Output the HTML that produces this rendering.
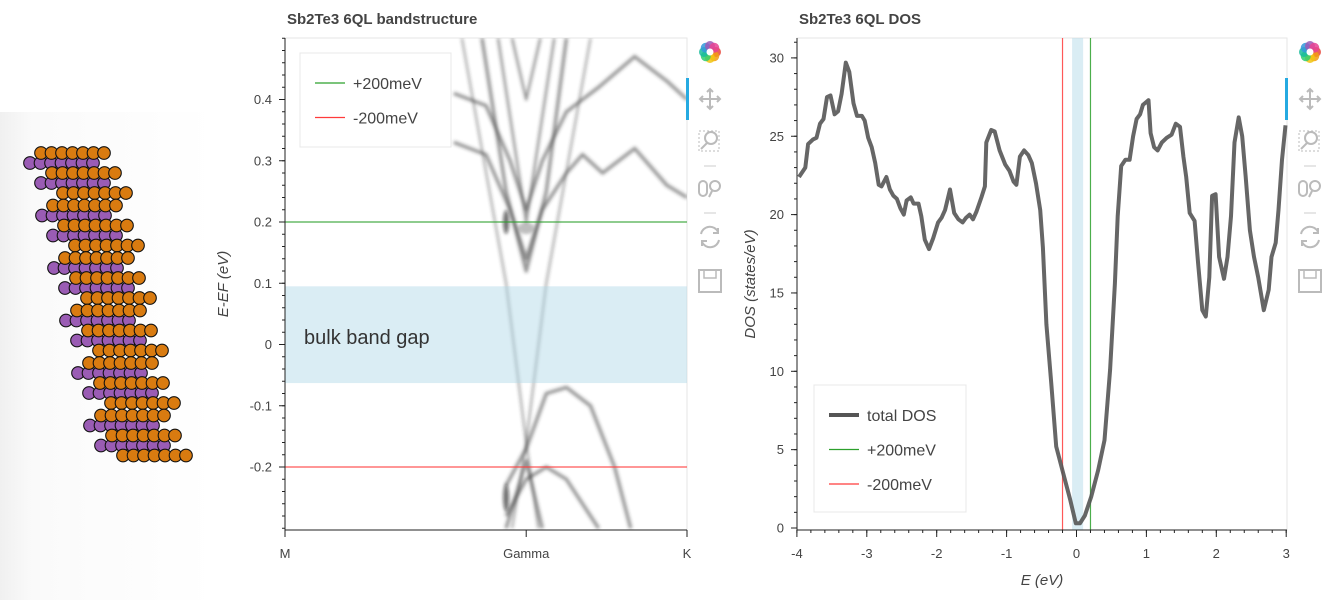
<!DOCTYPE html>
<html><head><meta charset="utf-8">
<style>
html,body{margin:0;padding:0;background:#fff;}
body{width:1334px;height:600px;overflow:hidden;font-family:"Liberation Sans",sans-serif;}
svg text{font-family:"Liberation Sans",sans-serif;}
</style></head>
<body>
<svg id="root" width="1334" height="600" xmlns="http://www.w3.org/2000/svg">
<defs>
<linearGradient id="lg" x1="0" x2="1" y1="0" y2="0"><stop offset="0" stop-color="#f0f0f0"/><stop offset="0.15" stop-color="#fafafa"/><stop offset="1" stop-color="#fff"/></linearGradient>
<filter id="blur" x="-20%" y="-20%" width="140%" height="140%"><feGaussianBlur stdDeviation="1.6"/></filter>
</defs>
<rect x="0" y="112" width="215" height="488" fill="url(#lg)"/>
<g id="atoms"></g>

<text x="287" y="24" font-size="15" font-weight="bold" fill="#444">Sb2Te3 6QL bandstructure</text>
<text x="799" y="24" font-size="15" font-weight="bold" fill="#444">Sb2Te3 6QL DOS</text>

<g id="band"></g>
<g id="dos"></g>
<g id="tb1"></g>
<g id="tb2"></g>
</svg>
<script>
// ---------------- DOS data ----------------
const dosE = [-3.97,-3.88,-3.84,-3.77,-3.72,-3.67,-3.62,-3.57,-3.52,-3.46,-3.41,-3.36,-3.30,-3.25,-3.19,-3.14,-3.07,-3.03,-2.98,-2.93,-2.88,-2.83,-2.79,-2.72,-2.67,-2.62,-2.57,-2.52,-2.47,-2.43,-2.37,-2.33,-2.26,-2.22,-2.17,-2.11,-2.05,-1.98,-1.93,-1.88,-1.81,-1.75,-1.69,-1.63,-1.58,-1.53,-1.48,-1.43,-1.36,-1.31,-1.29,-1.22,-1.17,-1.10,-1.02,-0.96,-0.90,-0.86,-0.81,-0.75,-0.69,-0.64,-0.58,-0.52,-0.48,-0.43,-0.36,-0.29,-0.19,-0.09,-0.01,0.05,0.12,0.21,0.31,0.40,0.48,0.55,0.59,0.64,0.70,0.76,0.81,0.86,0.91,0.95,1.03,1.06,1.11,1.16,1.22,1.29,1.36,1.42,1.48,1.53,1.57,1.62,1.69,1.74,1.80,1.85,1.90,1.94,1.99,2.04,2.11,2.16,2.21,2.26,2.32,2.37,2.42,2.48,2.54,2.60,2.68,2.75,2.79,2.85,2.89,2.94,2.99];
const dosV = [22.4,23.0,24.5,24.8,24.9,25.8,26.1,27.5,27.6,26.4,26.6,27.7,29.7,29.1,27.1,26.3,26.3,26.0,24.9,24.3,23.3,21.9,21.8,22.4,21.6,21.2,21.0,20.4,20.0,20.9,21.1,20.7,20.7,19.9,18.4,17.8,18.5,19.5,19.8,20.3,21.6,20.1,19.7,19.5,19.8,20.0,19.7,20.2,21.1,21.8,24.6,25.4,25.3,24.1,23.2,22.8,22.1,21.9,23.7,24.1,23.8,23.3,22.0,20.3,17.9,13.0,9.2,5.2,3.5,1.8,0.3,0.3,0.8,2.0,3.7,5.6,10.1,15.6,19.9,23.1,23.5,23.5,25.0,26.1,26.4,27.0,27.3,25.2,24.3,24.1,24.6,24.9,25.1,25.8,25.6,23.7,22.4,20.1,19.6,16.9,13.9,13.5,16.0,21.2,21.3,17.3,15.9,17.3,19.9,24.6,26.2,25.0,22.4,19.0,17.3,16.0,13.9,15.2,17.3,18.2,20.3,23.5,25.7];
const dosXTicks = [-4,-3,-2,-1,0,1,2,3];
const dosYTicks = [0,5,10,15,20,25,30];
const markerLines = [0.2,-0.2];
const gapRange = [-0.063,0.095];
// ---------------- Band data (k in 0..1, E in eV) ----------------
const bandYTicks = [-0.2,-0.1,0,0.1,0.2,0.3,0.4];
const kLabels = ["M","Gamma","K"];
const kPos = [0,0.6,1];
const bandK = [
 [0.42,0.50,0.56,0.60,0.64,0.70,0.74,0.78,0.87,0.95,1.0],
 [0.42,0.50,0.56,0.60,0.64,0.70,0.74,0.79,0.87,0.95,1.0],
 [0.49,0.55,0.60,0.65,0.70],
 [0.565,0.60,0.635],
 [0.44,0.55,0.60,0.63],
 [0.76,0.65,0.60,0.565],
 [0.55,0.60,0.65,0.70,0.76,0.82,0.86],
 [0.55,0.60,0.65,0.70,0.76,0.78],
 [0.55,0.60,0.64],
 [0.53,0.60,0.67]
];
const bandE = [
 [0.41,0.39,0.30,0.22,0.30,0.38,0.40,0.42,0.47,0.43,0.40],
 [0.33,0.31,0.22,0.14,0.22,0.28,0.31,0.28,0.32,0.26,0.24],
 [0.50,0.25,0.12,0.25,0.50],
 [0.50,0.40,0.50],
 [0.50,0.10,-0.16,-0.30],
 [0.50,0.10,-0.16,-0.30],
 [-0.23,-0.17,-0.08,-0.07,-0.10,-0.20,-0.30],
 [-0.28,-0.22,-0.20,-0.22,-0.28,-0.30],
 [-0.30,-0.19,-0.30],
 [0.50,0.20,0.50]
];
const bandW = [2.5,2.5,2.5,1.5,0.8,0.8,2.5,2.5,2.5,1.5];

const NS="http://www.w3.org/2000/svg";
function mk(tag,attrs,parent){const e=document.createElementNS(NS,tag);for(const k in attrs)e.setAttribute(k,attrs[k]);if(parent)parent.appendChild(e);return e;}

// ---------- atoms ----------
(function(){
 const g=document.getElementById('atoms');
 const rows=[];
 for(let q=0;q<6;q++){
  const d=30+q*12, y0=153+q*52.5;
  const offs=[11,0,22,11,33], types=['o','p','o','p','o'];
  for(let l=0;l<5;l++) rows.push({y:y0+l*10,x:d+offs[l],t:types[l]});
 }
 const order=rows.filter(r=>r.t==='p').concat(rows.filter(r=>r.t==='o'));
 order.forEach(r=>{for(let i=0;i<7;i++){
  const c=mk('circle',{cx:r.x+i*10.5,cy:r.y,r:6.3,fill:r.t==='o'?'#d97b10':'#9a5cb4',stroke:'#111','stroke-width':1.1},g);
  
  
 }});
})();

// ---------- axis helpers ----------
function axisLeft(g,x,y0,y1,ticks,minor,scale,fmt,name){
 const ax=mk('g',{},g);
 
 
 mk('line',{x1:x,x2:x,y1:y0,y2:y1,stroke:'#222','stroke-width':1},ax);
 minor.forEach(v=>{const y=scale(v);if(y>=y0-0.5&&y<=y1+0.5)mk('line',{x1:x-3,x2:x,y1:y,y2:y,stroke:'#222'},ax);});
 ticks.forEach(v=>{const y=scale(v);mk('line',{x1:x-6,x2:x,y1:y,y2:y,stroke:'#222'},ax);
  const t=mk('text',{x:x-13,y:y+4.5,'text-anchor':'end','font-size':13,fill:'#444'},ax);t.textContent=fmt(v);
  });
}
function axisBottom(g,y,x0,x1,ticks,labels,minor,scale,name){
 const ax=mk('g',{},g);
 
 
 mk('line',{x1:x0,x2:x1,y1:y,y2:y,stroke:'#222'},ax);
 minor.forEach(v=>{const x=scale(v);mk('line',{x1:x,x2:x,y1:y,y2:y+3,stroke:'#222'},ax);});
 ticks.forEach((v,i)=>{const x=scale(v);mk('line',{x1:x,x2:x,y1:y,y2:y+7,stroke:'#222'},ax);
  const t=mk('text',{x:x,y:y+28,'text-anchor':'middle','font-size':13,fill:'#444'},ax);t.textContent=labels[i];
  });
}
function legend(g,x,y,w,h,items,name){
 const lg=mk('g',{},g);
 
 
 mk('rect',{x:x,y:y,width:w,height:h,fill:'#fff','fill-opacity':0.95,stroke:'#e8e8e8'},lg);
 items.forEach((it,i)=>{const yy=y+30+i*34.5;
  const ent=mk('g',{},lg);
  
  
  mk('line',{x1:x+15,x2:x+45,y1:yy,y2:yy,stroke:it.c,'stroke-width':it.w},ent);
  const t=mk('text',{x:x+53,y:yy+6,'font-size':16,fill:'#444'},ent);t.textContent=it.l;});
}

// ---------- band plot ----------
(function(){
 const g=document.getElementById('band');
 const X0=285,X1=687,Y0=38,Y1=530;
 const kx=k=>X0+k*(X1-X0);
 const ey=e=>344.5-e*612.5;
 const clip=mk('clipPath',{id:'bclip'},g);mk('rect',{x:X0,y:Y0,width:X1-X0,height:Y1-Y0},clip);
 mk('rect',{x:X0,y:Y0,width:X1-X0,height:Y1-Y0,fill:'#fff',stroke:'#e6e6e6'},g);
 const bg=mk('g',{'clip-path':'url(#bclip)'},g);
 const bl=mk('g',{filter:'url(#blur)'},bg);
 bandK.forEach((ks,i)=>{
  const d=ks.map((k,j)=>(j?'L':'M')+kx(k).toFixed(1)+' '+ey(bandE[i][j]).toFixed(1)).join(' ');
  const p=mk('path',{d:d,fill:'none',stroke:'#333','stroke-width':bandW[i]+1,'stroke-opacity':0.5,'stroke-linejoin':'round'},bl);
  
  
 });
 const bb=mk('g',{filter:'url(#blur)'},bg);
 mk('ellipse',{cx:kx(0.55),cy:ey(0.2),rx:3,ry:12,fill:'#111',opacity:0.6},bb);
 mk('ellipse',{cx:kx(0.6),cy:ey(0.19),rx:8,ry:6,fill:'#444',opacity:0.35},bb);
 mk('ellipse',{cx:kx(0.55),cy:ey(-0.25),rx:3,ry:14,fill:'#111',opacity:0.6},bb);
 const gap=mk('rect',{x:X0,y:ey(gapRange[1]),width:X1-X0,height:ey(gapRange[0])-ey(gapRange[1]),fill:'#add8e6','fill-opacity':0.45},bg);
 
 const gt=mk('text',{x:304,y:344,'font-size':20,fill:'#333'},bg);gt.textContent='bulk band gap';
 
 const cols=['#2ca02c','#ff3b3b'];
 markerLines.forEach((e,i)=>{const l=mk('line',{x1:X0,x2:X1,y1:ey(e),y2:ey(e),stroke:cols[i],'stroke-width':1.2,'stroke-opacity':0.85},bg);
  });
 const minor=[];for(let v=-0.30;v<=0.5001;v+=0.02)minor.push(+v.toFixed(2));
 axisLeft(g,X0,Y0,Y1,bandYTicks,minor,ey,v=>v===0?'0':String(+v.toFixed(1)),'band-y-axis');
 axisBottom(g,Y1,X0,X1,kPos,kLabels,[],kx,'band-x-axis');
 const yl=mk('text',{x:0,y:0,'font-size':15,'font-style':'italic',fill:'#444','text-anchor':'middle',transform:'translate(228,284) rotate(-90)'},g);
 yl.textContent='E-EF (eV)';
 legend(g,300,53,151,94,[{c:'#2ca02c',w:1.2,l:'+200meV'},{c:'#ff3b3b',w:1.2,l:'-200meV'}],'band-legend');
})();

// ---------- DOS plot ----------
(function(){
 const g=document.getElementById('dos');
 const X0=797,X1=1287,Y0=38,Y1=530;
 const ex=e=>1076.5+e*69.9;
 const vy=v=>528-v*15.67;
 mk('rect',{x:X0,y:Y0,width:X1-X0,height:Y1-Y0,fill:'#fff',stroke:'#e6e6e6'},g);
 const gap=mk('rect',{x:ex(gapRange[0]),y:Y0,width:ex(gapRange[1])-ex(gapRange[0]),height:Y1-Y0,fill:'#add8e6','fill-opacity':0.45},g);
 
 const cols=['#2ca02c','#ff3b3b'];
 markerLines.forEach((e,i)=>{const l=mk('line',{x1:ex(e),x2:ex(e),y1:Y0,y2:Y1,stroke:cols[i],'stroke-width':1.2,'stroke-opacity':0.85},g);
  });
 const d=dosE.map((e,i)=>(i?'L':'M')+ex(e).toFixed(1)+' '+vy(dosV[i]).toFixed(1)).join(' ');
 const p=mk('path',{d:d,fill:'none',stroke:'#555','stroke-width':4,'stroke-opacity':0.9,'stroke-linejoin':'round'},g);
 
 const ym=[];for(let v=0;v<=31;v++)ym.push(v);
 axisLeft(g,X0,Y0,Y1,dosYTicks,ym,vy,v=>String(v),'dos-y-axis');
 const xm=[];for(let v=-4;v<=3.0001;v+=0.2)xm.push(+v.toFixed(1));
 axisBottom(g,Y1,X0,X1,dosXTicks,dosXTicks.map(String),xm,ex,'dos-x-axis');
 const yl=mk('text',{x:0,y:0,'font-size':15,'font-style':'italic',fill:'#444','text-anchor':'middle',transform:'translate(755,284) rotate(-90)'},g);
 yl.textContent='DOS (states/eV)';
 const xl=mk('text',{x:1042,y:585,'font-size':15,'font-style':'italic',fill:'#444','text-anchor':'middle'},g);
 xl.textContent='E (eV)';
 legend(g,814,385,152,127,[{c:'#555',w:4,l:'total DOS'},{c:'#2ca02c',w:1.2,l:'+200meV'},{c:'#ff3b3b',w:1.2,l:'-200meV'}],'dos-legend');
})();

// ---------- toolbars ----------
function toolbar(id,x,barX){
 const g=document.getElementById(id);
 const logo=mk('g',{},g);
 
 const cs=['#e8483b','#f39c12','#f1c40f','#2ecc71','#1abc9c','#3498db','#9b59b6','#e84393'];
 cs.forEach((c,i)=>{const a=i*Math.PI/4;mk('circle',{cx:x+Math.cos(a)*6,cy:52+Math.sin(a)*6,r:5,fill:c,opacity:0.85},logo);});
 mk('circle',{cx:x,cy:52,r:3.5,fill:'#fff'},logo);
 const bar=mk('rect',{x:barX,y:78,width:3,height:42,fill:'#26aae1'},g);
 
 const s='#bbb';
 const pan=mk('g',{stroke:s,'stroke-width':2,fill:'none'},g);
 
 mk('path',{d:`M${x-10} 99 H${x+10} M${x} 89 V109 M${x-7} 96 l-3 3 3 3 M${x+7} 96 l3 3 -3 3 M${x-3} 92 l3 -3 3 3 M${x-3} 106 l3 3 3 -3`},pan);
 const zm=mk('g',{stroke:s,'stroke-width':2,fill:'none'},g);
 
 mk('rect',{x:x-11,y:131,width:20,height:20,'stroke-dasharray':'2 2','stroke-width':1},zm);
 mk('circle',{cx:x+1,cy:138,r:6},zm);mk('path',{d:`M${x-3} 143 l-6 6`},zm);
 mk('line',{x1:x-6,x2:x+6,y1:166,y2:166,stroke:'#ccc'},g);
 const wz=mk('g',{stroke:s,'stroke-width':2,fill:'none'},g);
 
 mk('rect',{x:x-11,y:181,width:8,height:15,rx:4},wz);mk('circle',{cx:x+5,cy:186,r:5},wz);mk('path',{d:`M${x+2} 191 l-3 6`},wz);
 mk('line',{x1:x-6,x2:x+6,y1:213,y2:213,stroke:'#ccc'},g);
 const rs=mk('g',{stroke:s,'stroke-width':2,fill:'none'},g);
 
 mk('path',{d:`M${x-9} 234 A9 9 0 0 1 ${x+8} 232 M${x+9} 240 A9 9 0 0 1 ${x-8} 242 M${x+8} 228 v5 h-5 M${x-8} 246 v-5 h5`},rs);
 const sv=mk('g',{stroke:s,'stroke-width':2,fill:'none'},g);
 
 mk('rect',{x:x-11,y:270,width:22,height:22},sv);mk('rect',{x:x-6,y:270,width:12,height:8,'stroke-width':1.5},sv);
}
toolbar('tb1',710,686);
toolbar('tb2',1310,1285);
</script>
</body></html>
